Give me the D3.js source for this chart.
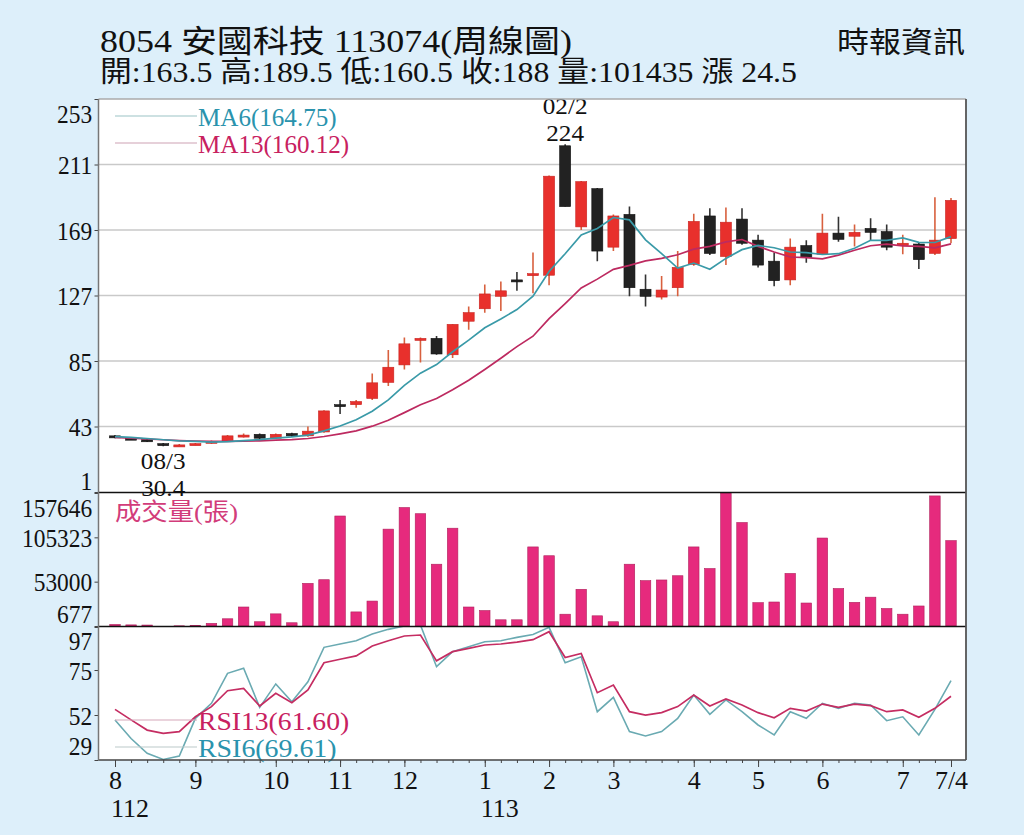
<!DOCTYPE html>
<html>
<head>
<meta charset="utf-8">
<script src="https://cdn.jsdelivr.net/npm/d3@7"></script>
<style>
  body { margin: 0; background: #ddeffa; }
  svg { display: block; }
  text { font-family: "Liberation Serif", "Noto Sans CJK TC", serif; }
</style>
</head>
<body>
<svg id="chart" width="1024" height="835"></svg>
<script>
// weekly candles, Aug 112 .. 7/4 113
const weeks = d3.range(53);
const open  = [37,35.5,34.5,32,31,31.2,32.5,33.5,37,38,35.5,38.5,37,39.5,57,57,61,71.3,82.5,99,99.5,89,110.5,118.5,126.5,137,140,140,223,171,195.5,158,179,131,126,132,147,178,152,176,162.5,149,137,159,153.5,167,165,170,168,159,160,154,163.5];
const high  = [37.5,36,35,32.5,31.8,32.5,34,37.5,38.5,38.5,38.5,39,43,53.5,60,60,77,92,100,100,101,108.5,120,134,136,142,154.5,204,224,200.5,196,179,184,140.5,139.5,155.5,179.5,183,183.5,183,166,154.5,163.5,162.5,179.5,177.5,172.5,176.5,172.5,166,161,190,189.5];
const low   = [35.5,34.5,33,30.4,30.6,31,32,33,36,35,35,36.5,36.5,39,51,55,60,69,79.5,84,89,87,105,116,117,130,128.5,133.5,184,169,149,155.5,126.5,120,124.5,126.5,146,153,146.5,159.5,145,133,133.5,148,153,161.5,158.5,162.5,156,153.5,144,153,160.5];
const close = [36,35,33.5,31,31.2,32,33.5,37,37.5,35.5,38,37,40,53,56.5,59,71,81,96,99.5,89.5,108.5,116,128,130,136,141,203.5,184,200,155.5,178,132,126.5,130.5,145,174.5,154,174,160.5,146.5,136.5,158,151.5,167,163,167.5,167.5,158,160.5,150,162.5,188];
const ma6   = [36.5,36,35.3,34.5,33.8,33.5,33,33.3,34,34.6,35.6,36.3,37.5,40.2,43.3,47.3,52.8,60.1,69.4,77.2,82.7,90.9,98.4,106.3,111.9,118,126.6,142.4,153.8,165.8,170,177,175.5,162.7,153.8,144.6,147.8,143.8,150.8,156.4,159.1,157.6,154.9,154.5,153.3,153.8,157.3,162.4,162.4,163.9,161.1,161,164.75];
const ma13  = [36,35.5,35,34.5,34,33.7,33.5,33.5,33.6,33.8,34.2,34.6,35.3,36.6,38.3,40.2,43.2,47,51.9,57,61,66.5,72.7,79.6,86.8,94.2,100.9,112.2,121.8,131.8,137.5,143.8,146.3,149.2,150.8,153.1,156.7,158.5,161.4,162.9,158.5,154.9,151.7,151.3,150.5,152.9,156,158.9,159.9,158.8,158.5,157.6,160.12];
const volume = [2500,2000,1800,677,900,1500,3800,9200,23100,5700,15000,4500,51000,55300,130500,17300,30100,115000,140500,133200,73600,116100,23100,18900,8000,8000,94000,83600,14600,44000,12700,5700,73600,54200,55000,60000,94000,68500,157646,122800,28200,29000,62700,27800,104500,44900,28600,34700,21300,14600,24300,154200,101435];
const rsi13 = [54.9,49.5,44.3,42.6,43.5,51.1,56.3,64.4,65.6,56.6,63.1,58.3,64.8,78.7,80.5,82.2,87.3,90,92.4,92.9,79.7,84.4,86.1,87.8,88.3,89.3,90.5,94.6,81.4,83.5,63.4,67.3,53.7,52,53.2,56.3,62.2,56.6,60.2,57.1,53.2,50.6,55.4,54,57.6,55.9,57.6,56.8,53.7,54.6,50.8,55.4,61.6];
const rsi6  = [49.5,40,32.4,29.3,31,50.3,58,73.3,75.9,55.9,67.9,58.8,69,86.6,88.3,90,93.4,95.8,97.5,98,76.7,84.4,86.9,89.5,90,91.7,93.2,96.8,78.7,81.8,53.7,61,43.5,41.3,43.5,50.3,62.2,52.4,59.7,53.7,46.9,41.8,53.7,50.3,58,55.4,58,57.1,49.1,51.1,41.8,54.9,69.61];

const priceTicks = [253, 211, 169, 127, 85, 43, 1];
const volTicks = [157646, 105323, 53000, 677];
const rsiTicks = [97, 75, 52, 29];
const monthIdx = [0, 5, 10, 14, 18, 23, 27, 31, 36, 40, 44, 49, 52];
const monthLabels = ['8', '9', '10', '11', '12', '1', '2', '3', '4', '5', '6', '7', '7/4'];
const yearIdx = [0, 23];
const yearLabels = ['112', '113'];

const RED = '#e8302c', BLACK = '#222', TEAL = '#3a9aa8', CRIMSON = '#bd2a60';
const L = 98.5, R = 966;

const svg = d3.select('#chart');
svg.append('rect').attr('width', 1024).attr('height', 835).attr('fill', '#ddeffa');
svg.append('rect').attr('x', L).attr('y', 99).attr('width', R - L).attr('height', 661).attr('fill', '#fff');

const x = d3.scalePoint().domain(weeks).range([115, 951]);
const yP = d3.scaleLinear().domain([1, 253]).range([492, 99]);
const yV = d3.scaleLinear().domain([677, 157646]).range([626, 493]);
const yR = d3.scaleLinear().domain([29, 97]).range([760, 627]);

const defs = svg.append('defs');
defs.append('clipPath').attr('id', 'clipP').append('rect')
  .attr('x', L).attr('y', 99).attr('width', R - L).attr('height', 393.5);
defs.append('clipPath').attr('id', 'clipR').append('rect')
  .attr('x', L).attr('y', 626.5).attr('width', R - L).attr('height', 133.5);

// price grid
svg.append('g').selectAll('line').data(priceTicks.slice(1, -1)).join('line')
  .attr('x1', L).attr('x2', R).attr('y1', yP).attr('y2', yP)
  .attr('stroke', '#c9c9c9').attr('stroke-width', 1.5);

// y axes
function leftAxis(scale, ticks, shifts) {
  const g = svg.append('g').attr('transform', `translate(${L},0)`)
    .call(d3.axisLeft(scale).tickValues(ticks).tickSize(4).tickFormat(d3.format('d')));
  g.select('.domain').remove();
  g.selectAll('line').attr('stroke', '#444');
  g.selectAll('text')
    .attr('font-family', '"Liberation Serif", serif').attr('font-size', 26)
    .attr('fill', '#111').attr('dy', '0.35em')
    .attr('y', (d) => shifts[d] || 0)
    .attr('transform', 'scale(0.9,1)');
}
leftAxis(yP, priceTicks, { 253: 14, 1: -12 });
leftAxis(yV, volTicks, { 157646: 14, 677: -13 });
leftAxis(yR, rsiTicks, { 97: 13, 29: -15 });

// candles
const pg = svg.append('g').attr('clip-path', 'url(#clipP)');
const candles = pg.selectAll('g.c').data(weeks).join('g').attr('class', 'c');
candles.append('line')
  .attr('x1', (i) => x(i)).attr('x2', (i) => x(i))
  .attr('y1', (i) => yP(high[i])).attr('y2', (i) => yP(low[i]))
  .attr('stroke', (i) => close[i] >= open[i] ? '#d8603e' : '#333')
  .attr('stroke-width', 1.6);
candles.append('rect')
  .attr('x', (i) => x(i) - 5.5).attr('width', 11)
  .attr('y', (i) => yP(Math.max(open[i], close[i])))
  .attr('height', (i) => Math.max(2, Math.abs(yP(open[i]) - yP(close[i]))))
  .attr('fill', (i) => close[i] >= open[i] ? RED : BLACK)
  .attr('stroke', (i) => close[i] >= open[i] ? '#c82420' : '#111').attr('stroke-width', 0.6);

const line = (ys) => d3.line().x((d, i) => x(i)).y((d) => ys(d));
pg.append('path').datum(ma13).attr('d', line(yP)).attr('fill', 'none')
  .attr('stroke', CRIMSON).attr('stroke-width', 1.7);
pg.append('path').datum(ma6).attr('d', line(yP)).attr('fill', 'none')
  .attr('stroke', TEAL).attr('stroke-width', 1.7);

// annotations (stacked date / price)
const ann = (t, xx, yy) => svg.append('text').attr('x', xx).attr('y', yy)
  .attr('text-anchor', 'middle').attr('font-size', 24).attr('fill', '#111')
  .attr('transform', `translate(${xx},0) scale(1.05,1) translate(${-xx},0)`).text(t);
ann('02/2', x(28), 114);
ann('224', x(28), 141);
ann('08/3', x(3), 469);
ann('30.4', x(3), 496);

// MA legend
const legend = (y, lineColor, textColor, label) => {
  svg.append('line').attr('x1', 115).attr('x2', 197).attr('y1', y).attr('y2', y)
    .attr('stroke', lineColor).attr('stroke-width', 1.2);
  svg.append('text').attr('x', 198).attr('y', y + 10).attr('font-size', 25)
    .attr('fill', textColor).attr('textLength', label.length * 12.6)
    .attr('lengthAdjust', 'spacingAndGlyphs').text(label);
};
legend(116, '#9cc4c6', '#2a93ad', 'MA6(164.75)');
legend(143, '#cda2b4', '#c8215f', 'MA13(160.12)');

// volume
svg.append('g').selectAll('rect').data(weeks).join('rect')
  .attr('x', (i) => x(i) - 5.25).attr('width', 10.5)
  .attr('y', (i) => yV(volume[i])).attr('height', (i) => 626 - yV(volume[i]))
  .attr('fill', '#e62a7d').attr('stroke', '#b0205c').attr('stroke-width', 0.6);
svg.append('text').attr('x', 115).attr('y', 520).attr('font-size', 24)
  .attr('font-family', '"Noto Sans CJK TC", sans-serif')
  .attr('fill', '#d23c7a').attr('textLength', 123).attr('lengthAdjust', 'spacingAndGlyphs')
  .text('成交量(張)');

// RSI
const rg = svg.append('g').attr('clip-path', 'url(#clipR)');
rg.append('path').datum(rsi6).attr('d', line(yR)).attr('fill', 'none')
  .attr('stroke', '#6aaab2').attr('stroke-width', 1.6);
rg.append('path').datum(rsi13).attr('d', line(yR)).attr('fill', 'none')
  .attr('stroke', '#c52d62').attr('stroke-width', 1.7);
legend(720, '#d6a8ba', '#c8215f', 'RSI13(61.60)');
legend(747, '#bccaca', '#2a93ad', 'RSI6(69.61)');

// frame
const hl = (y, c, w) => svg.append('line').attr('x1', L).attr('x2', R).attr('y1', y).attr('y2', y)
  .attr('stroke', c).attr('stroke-width', w);
hl(99, '#aaa', 1.5);
hl(492.5, '#111', 1.6);
hl(626.5, '#111', 1.6);
hl(760, '#444', 1.6);
svg.append('line').attr('x1', L).attr('x2', L).attr('y1', 99).attr('y2', 760).attr('stroke', '#777').attr('stroke-width', 1.5);
svg.append('line').attr('x1', R).attr('x2', R).attr('y1', 99).attr('y2', 760).attr('stroke', '#555').attr('stroke-width', 1.8);

// x axis
const xMinor = svg.append('g').attr('transform', 'translate(0,760)')
  .call(d3.axisBottom(x).tickValues(weeks).tickSize(3).tickFormat(''));
xMinor.select('.domain').remove();
xMinor.selectAll('line').attr('stroke', '#444');
const xMajor = svg.append('g').attr('transform', 'translate(0,760)')
  .call(d3.axisBottom(x).tickValues(monthIdx).tickSize(7).tickPadding(4)
    .tickFormat((d, i) => monthLabels[i]));
xMajor.select('.domain').remove();
xMajor.selectAll('line').attr('stroke', '#444');
xMajor.selectAll('text').attr('font-family', '"Liberation Serif", serif')
  .attr('font-size', 26).attr('fill', '#111');
svg.append('g').selectAll('text').data(yearIdx).join('text')
  .attr('x', (d) => x(d) - 4).attr('y', 817).attr('font-size', 26).attr('fill', '#111')
  .text((d, i) => yearLabels[i]);

// header
svg.append('text').attr('x', 100).attr('y', 52).attr('font-size', 31).attr('fill', '#111')
  .attr('textLength', 472).attr('lengthAdjust', 'spacingAndGlyphs')
  .text('8054  安國科技 113074(周線圖)');
svg.append('text').attr('x', 100).attr('y', 82).attr('font-size', 29).attr('fill', '#111')
  .attr('textLength', 697).attr('lengthAdjust', 'spacingAndGlyphs')
  .text('開:163.5 高:189.5 低:160.5 收:188 量:101435 漲 24.5');
svg.append('text').attr('x', 837).attr('y', 53).attr('font-size', 29).attr('fill', '#111')
  .attr('font-family', '"Noto Sans CJK TC", sans-serif')
  .attr('textLength', 128).attr('lengthAdjust', 'spacingAndGlyphs')
  .text('時報資訊');
</script>
</body>
</html>
